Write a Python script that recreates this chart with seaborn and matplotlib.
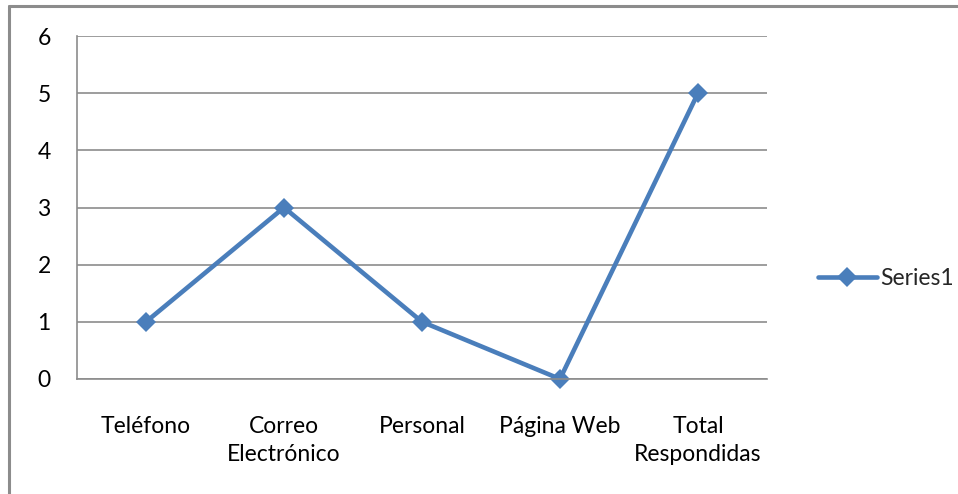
import matplotlib
matplotlib.use("Agg")
import matplotlib.pyplot as plt
import pandas as pd
import seaborn as sns
from matplotlib.lines import Line2D

# Data
categorias = ["Teléfono", "Correo\nElectrónico", "Personal", "Página Web", "Total\nRespondidas"]
valores = [1, 3, 1, 0, 5]
serie = "Series1"

df = pd.DataFrame({"categoria": categorias, "valor": valores, "serie": serie})
df["pos"] = range(len(df))

sns.set_style("white")
plt.rcParams["font.family"] = ["Lato", "DejaVu Sans"]

azul = "#4A7EBB"
gris = "#8C8C8C"
fs = 16.5

fig = plt.figure(figsize=(9.58, 4.94), dpi=100)
ax = fig.add_axes([0.0804, 0.2328, 0.7202, 0.6943])

sns.lineplot(data=df, x="pos", y="valor", hue="serie", palette=[azul], ax=ax,
             marker="D", markersize=10, linewidth=3.3, markeredgewidth=0,
             legend=False)
for ln in ax.lines:
    ln.set_clip_on(False)

ax.set_xlim(-0.5, len(categorias) - 0.5)
ax.set_ylim(0, 6)
ax.set_yticks(range(0, 7))
ax.yaxis.grid(True, color=gris, linewidth=1.2)
ax.set_axisbelow(True)

# category labels centered, tick marks between categories
ax.set_xticks(df["pos"])
ax.set_xticklabels(categorias, fontsize=fs, linespacing=1.4)
ax.tick_params(axis="x", length=0, pad=27)
ax.set_xticks([i - 0.5 for i in range(len(categorias) + 1)], minor=True)
ax.tick_params(axis="x", which="minor", length=7, width=1.2, color=gris, direction="out")
ax.tick_params(axis="y", length=7, width=1.2, color=gris, direction="out", labelsize=fs, pad=12)
ax.tick_params(axis="both", labelcolor="black")

for lado in ["top", "right"]:
    ax.spines[lado].set_visible(False)
for lado in ["left", "bottom"]:
    ax.spines[lado].set_color(gris)
    ax.spines[lado].set_linewidth(1.2)

ax.set_xlabel("")
ax.set_ylabel("")

# legend
h = Line2D([], [], color=azul, linewidth=3.3, marker="D", markersize=10, markeredgewidth=0)
fig.legend([h], [serie], loc="center left", bbox_to_anchor=(0.832, 0.437),
           frameon=False, fontsize=fs, handlelength=2.6, handletextpad=0.15)

# outer frame (top and left edges)
fig.add_artist(Line2D([8.5 / 958, 1.0], [1 - 6.5 / 494, 1 - 6.5 / 494], color=gris, linewidth=2.2,
                      transform=fig.transFigure))
fig.add_artist(Line2D([8.5 / 958, 8.5 / 958], [0, 1 - 6.5 / 494], color=gris, linewidth=2.2,
                      transform=fig.transFigure))

fig.savefig("out.png", dpi=100)
